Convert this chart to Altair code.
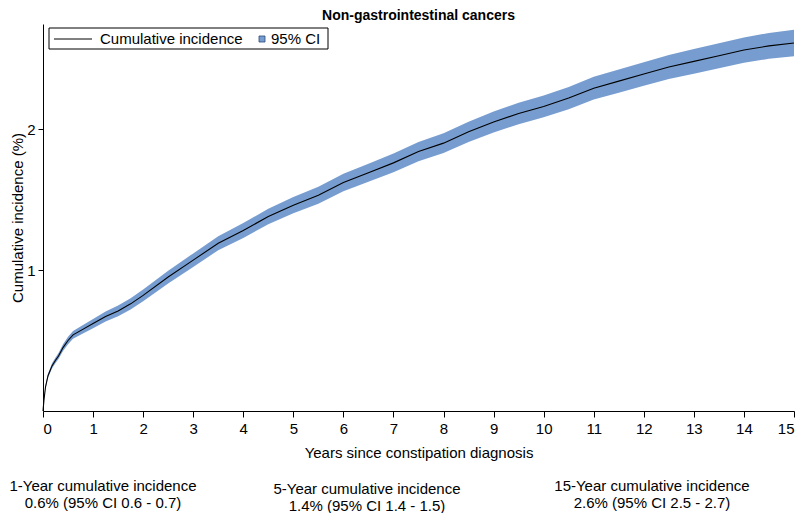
import altair as alt
import pandas as pd

years = [0, 0.02, 0.05, 0.1, 0.18, 0.25, 0.31, 0.4, 0.5, 0.6, 0.75, 1.0, 1.25, 1.5, 1.75, 2.0,
         2.5, 3.0, 3.5, 4.0, 4.5, 5.0, 5.5, 6.0, 6.5, 7.0, 7.5, 8.0, 8.5, 9.0, 9.5, 10.0,
         10.5, 11.0, 11.5, 12.0, 12.5, 13.0, 13.5, 14.0, 14.5, 15.0]
cum_inc = [0, 0.08, 0.17, 0.25, 0.32, 0.36, 0.39, 0.45, 0.50, 0.54, 0.57, 0.62, 0.67, 0.71, 0.76, 0.82,
           0.95, 1.07, 1.19, 1.28, 1.38, 1.46, 1.53, 1.62, 1.69, 1.76, 1.84, 1.90, 1.98, 2.05, 2.11, 2.16,
           2.22, 2.29, 2.34, 2.39, 2.44, 2.48, 2.52, 2.56, 2.59, 2.61]
ci_lower = [0, 0.075, 0.16, 0.235, 0.302, 0.34, 0.368, 0.426, 0.474, 0.512, 0.54, 0.587, 0.635, 0.672, 0.72, 0.778,
            0.905, 1.022, 1.14, 1.227, 1.325, 1.402, 1.47, 1.558, 1.626, 1.694, 1.772, 1.83, 1.908, 1.976, 2.034, 2.083,
            2.141, 2.21, 2.258, 2.307, 2.355, 2.393, 2.431, 2.47, 2.498, 2.516]
ci_upper = [0, 0.085, 0.18, 0.265, 0.338, 0.38, 0.412, 0.474, 0.526, 0.568, 0.60, 0.653, 0.705, 0.748, 0.80, 0.862,
            0.995, 1.118, 1.24, 1.333, 1.435, 1.518, 1.59, 1.682, 1.754, 1.826, 1.908, 1.97, 2.052, 2.124, 2.186, 2.237,
            2.299, 2.37, 2.422, 2.473, 2.525, 2.567, 2.609, 2.65, 2.682, 2.704]

x_ticks = list(range(16))
y_ticks = [1, 2]

title_text = "Non-gastrointestinal cancers"
x_title = "Years since constipation diagnosis"
y_title = "Cumulative incidence (%)"
legend_labels = ["Cumulative incidence", "95% CI"]
summary_line1 = ["1-Year cumulative incidence", "5-Year cumulative incidence", "15-Year cumulative incidence"]
summary_line2 = ["0.6% (95% CI 0.6 - 0.7)", "1.4% (95% CI 1.4 - 1.5)", "2.6% (95% CI 2.5 - 2.7)"]

FONT = "Liberation Sans"
BAND = "#779DD0"
W, H = 751, 387

df = pd.DataFrame({"t": years, "ci": cum_inc, "lo": ci_lower, "hi": ci_upper})
one = pd.DataFrame({"a": [0]})

xs = alt.Scale(domain=[0, 15], nice=False, zero=False)
ys = alt.Scale(domain=[0, 2.745], nice=False, zero=False)

band = alt.Chart(df).mark_area(color=BAND, opacity=1).encode(
    x=alt.X("t:Q", scale=xs, axis=alt.Axis(values=x_ticks, title=x_title, format="d",
                                          labelFontSize=15, titleFontSize=15, tickSize=6,
                                          labelPadding=4, titlePadding=9, grid=False)),
    y=alt.Y("lo:Q", scale=ys, axis=alt.Axis(values=y_ticks, title=y_title, format="d",
                                           labelFontSize=15, titleFontSize=15, tickSize=5,
                                           labelPadding=3, titlePadding=1, grid=False)),
    y2="hi:Q",
)
line = alt.Chart(df).mark_line(color="black", strokeWidth=1.1).encode(
    x=alt.X("t:Q", scale=xs), y=alt.Y("ci:Q", scale=ys)
)

legend_box = alt.Chart(one).mark_rect(fill="white", stroke="black", strokeWidth=1).encode(
    x=alt.value(6), x2=alt.value(285), y=alt.value(4), y2=alt.value(25)
)
legend_line = alt.Chart(one).mark_rule(color="black", strokeWidth=1).encode(
    x=alt.value(11), x2=alt.value(49), y=alt.value(15)
)
legend_sq = alt.Chart(one).mark_square(size=36, fill=BAND, stroke="#2a4a7a", strokeWidth=0.8, opacity=1).encode(
    x=alt.value(219), y=alt.value(15)
)
legend_t1 = alt.Chart(one).mark_text(align="left", baseline="middle", fontSize=15, font=FONT).encode(
    x=alt.value(57), y=alt.value(15), text=alt.value(legend_labels[0])
)
legend_t2 = alt.Chart(one).mark_text(align="left", baseline="middle", fontSize=15, font=FONT).encode(
    x=alt.value(228), y=alt.value(15), text=alt.value(legend_labels[1])
)

summary_df = pd.DataFrame({
    "l1": summary_line1, "l2": summary_line2,
    "px": [60, 324, 609], "py": [462, 465, 462],
})
sum1 = alt.Chart(summary_df).mark_text(align="center", baseline="middle", fontSize=15, font=FONT).encode(
    x=alt.X("px:Q", scale=alt.Scale(domain=[0, W], range=[0, W]), axis=None),
    y=alt.Y("py:Q", scale=alt.Scale(domain=[0, H], range=[0, H]), axis=None),
    text="l1:N",
)
sum2 = alt.Chart(summary_df).mark_text(align="center", baseline="middle", fontSize=15, font=FONT, dy=17).encode(
    x=alt.X("px:Q", scale=alt.Scale(domain=[0, W], range=[0, W]), axis=None),
    y=alt.Y("py:Q", scale=alt.Scale(domain=[0, H], range=[0, H]), axis=None),
    text="l2:N",
)

plot = alt.layer(band, line, legend_box, legend_line, legend_sq, legend_t1, legend_t2).resolve_scale(
    x="shared", y="shared")
summary = alt.layer(sum1, sum2)

chart = alt.layer(plot, summary).resolve_scale(x="independent", y="independent").properties(
    width=W, height=H,
    title=alt.TitleParams(title_text, fontSize=14, fontWeight="bold", font=FONT, anchor="middle",
                          offset=1, color="black"),
    autosize=alt.AutoSizeParams(type="none"),
    padding={"left": 35, "top": 16, "right": 8, "bottom": 102},
).configure_view(stroke=None).configure_axis(
    domainColor="black", tickColor="black", labelColor="black", titleColor="black",
    labelFont=FONT, titleFont=FONT, titleFontWeight="normal", domainWidth=1, tickWidth=1,
)

chart.save("out.html", embed_options={"renderer": "svg", "actions": False})
